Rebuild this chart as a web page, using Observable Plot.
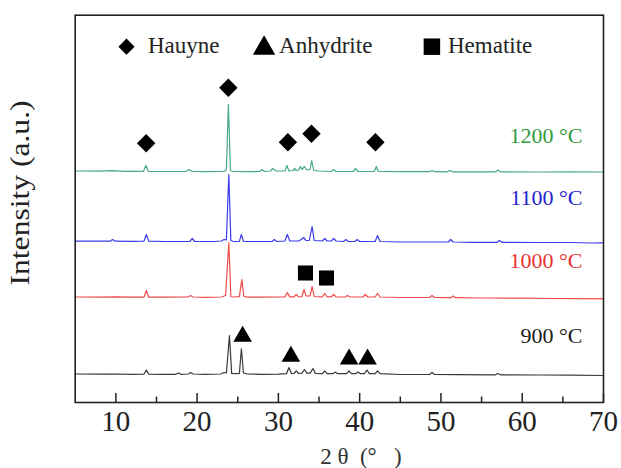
<!DOCTYPE html>
<html>
<head>
<meta charset="utf-8">
<script src="https://cdn.jsdelivr.net/npm/d3@7"></script>
<script src="https://cdn.jsdelivr.net/npm/@observablehq/plot@0.6"></script>
<style>
  html, body { margin: 0; padding: 0; background: #fff; }
</style>
</head>
<body>
<script>
// ---- Data (2θ in degrees, intensity in stacked arbitrary units) ----
const seriesNames = ["1200 \u00B0C", "1100 \u00B0C", "1000 \u00B0C", "900 \u00B0C"];
const lineColors  = ["#45a88f", "#3b3bef", "#ef4b4b", "#3a3a3a"];
const labelColors = ["#2f9a3e", "#2323cf", "#e63232", "#1a1a1a"];
const labelLevels = [266.5, 205, 141.2, 66.2];

const trace1200 = [[5,231.5],[8,231.3],[9.5,231.8],[11,231.2],[13.4,231.2],[13.7,237],[14.0,231.2],[16,231],[18.6,231],[19.0,233],[19.4,231],[21,230.8],[23.3,231],[23.6,232.5],[23.85,298],[24.1,232],[24.4,231],[26,230.8],[27.7,231],[28.0,233],[28.3,231],[29.0,231.5],[29.3,234],[29.7,231.5],[30.8,231.5],[31.05,237],[31.3,231.5],[31.8,232],[32.0,234],[32.2,232],[32.5,232.5],[32.7,236],[32.9,233],[33.2,236],[33.5,232.5],[33.9,233],[34.1,242],[34.35,232],[35,231.5],[36.5,231],[36.8,233],[37.1,231],[39.2,231],[39.5,234],[39.8,231],[41.8,231],[42.05,236],[42.3,231],[45,230.8],[48.6,230.8],[48.9,232],[49.2,230.8],[50.8,230.7],[51.1,232],[51.4,230.7],[54,230.6],[56.7,230.6],[57.0,232.5],[57.3,230.6],[62,230.5],[66,230.6],[70,230.5]];

const trace1100 = [[5,161.3],[7.5,161.5],[9.3,161.3],[9.6,163],[9.9,161.3],[12,161.2],[13.45,161.3],[13.75,168],[14.05,161.3],[16,161],[19.1,161],[19.4,164],[19.7,161],[22,161],[23.0,161.5],[23.3,163],[23.6,162.5],[23.9,228],[24.15,162],[24.5,161],[25.2,161.2],[25.45,168],[25.7,161.2],[27,161],[29.2,161],[29.5,163],[29.8,161],[30.8,161.5],[31.1,168],[31.4,161.5],[32.5,161.5],[32.8,163],[33.1,165],[33.4,162],[33.8,162],[34.15,176],[34.4,162],[35.4,161.5],[35.7,164],[36.0,161.5],[36.5,161.5],[36.8,164],[37.1,161.5],[38.0,161],[38.3,163],[38.6,161],[39.4,161],[39.7,163],[40,161],[41.9,161],[42.2,167],[42.5,161],[45,160.5],[48,160.5],[50.9,160.5],[51.2,163],[51.5,160.5],[54,160.2],[56.9,160.2],[57.2,162],[57.5,160.2],[62,160],[66,160],[68.5,159.5],[70,159.7]];

const trace1000 = [[5,105.5],[8,105.3],[10,105.6],[12,105.3],[13.45,105.3],[13.75,112],[14.05,105.3],[16.5,105.3],[18.9,105.5],[19.2,107],[19.5,105.5],[21,105.2],[23.0,105.5],[23.5,107],[23.9,160],[24.15,106],[24.5,105.5],[25.2,105.8],[25.5,123],[25.75,106],[26.2,105.3],[28,105.3],[30.8,105.6],[31.1,110],[31.4,105.6],[31.9,105.6],[32.2,108],[32.5,105.6],[32.9,106],[33.15,113],[33.4,106.5],[33.9,106.5],[34.15,116],[34.4,106],[35.4,105.6],[35.7,109],[36,105.6],[36.5,105.6],[36.8,108],[37.1,105.6],[38.2,105.5],[38.5,107],[38.8,105.5],[40.4,105.5],[40.7,108],[41,105.5],[41.9,105.5],[42.2,109],[42.5,105.5],[45,105],[48.6,105],[48.9,107],[49.2,105],[51.2,104.8],[51.5,106.5],[51.8,104.8],[55,104.5],[60,104.3],[64,104],[67,103.8],[70,103.7]];

const trace900 = [[5,28.5],[8,28.3],[10,28.5],[12,28.2],[13.45,28.3],[13.75,32.5],[14.05,28.3],[16,28.2],[17.4,28.2],[17.7,29.5],[18,28.2],[18.9,28.5],[19.2,30],[19.5,28.5],[21,28.2],[22.9,28.5],[23.3,30],[23.6,29.5],[23.98,67],[24.25,29],[24.7,28.8],[25.2,29],[25.45,53.7],[25.7,29.5],[26.2,28.5],[28,28.2],[30,28.3],[31.0,28.8],[31.3,35],[31.6,29],[31.9,29],[32.2,31.5],[32.5,29],[32.9,29.3],[33.2,33],[33.5,29.3],[33.9,29.3],[34.25,34],[34.55,29],[35.4,28.8],[35.7,31.5],[36,28.8],[36.7,28.8],[37.0,30.5],[37.3,28.8],[38.4,28.8],[38.7,31.5],[39.0,28.8],[39.5,28.8],[39.8,30.5],[40.1,28.8],[40.6,28.8],[40.9,32.5],[41.2,28.8],[41.9,28.8],[42.2,31.5],[42.5,28.8],[45,28],[48.6,28],[48.9,30],[49.2,28],[52,27.8],[56.7,27.7],[57,29],[57.3,27.7],[62,27.5],[66,27.3],[70,27]];

const traces = [trace1200, trace1100, trace1000, trace900];

// Phase markers: peak position (2θ) and marker height (a.u.)
const hauyneX = [13.73, 23.84, 31.17, 34.07, 41.94];
const hauyneY = [259.3, 314.7, 260.3, 268.7, 260.3];
const anhydriteX = [25.6, 31.54, 38.7, 40.97];
const anhydriteY = [66, 46, 43.3, 43.3];
const hematiteX = [33.33, 35.92];
const hematiteY = [129.5, 124.5];

const phaseNames = ["Hauyne", "Anhydrite", "Hematite"];
const majorTicks = [10, 20, 30, 40, 50, 60, 70];
const minorTicks = [15, 25, 35, 45, 55, 65];

// ---- Build tables ----
const lineRows = traces.flatMap((t, i) => t.map(([x, y]) => ({x, y, s: seriesNames[i]})));
const hauyne = hauyneX.map((x, i) => ({x, y: hauyneY[i]}));
const anhydrite = anhydriteX.map((x, i) => ({x, y: anhydriteY[i]}));
const hematite = hematiteX.map((x, i) => ({x, y: hematiteY[i]}));
const labels = seriesNames.map((s, i) => ({s, y: labelLevels[i], c: labelColors[i]}));

const W = 621, H = 468;
const mL = 74.7, mR = 18, mT = 14.7, mB = 66;
const frameH = H - mT - mB;
const serif = "'Liberation Serif', 'Times New Roman', serif";

const chart = Plot.plot({
  width: W, height: H,
  marginLeft: mL, marginRight: mR, marginTop: mT, marginBottom: mB,
  style: {fontFamily: serif, background: "#fff", color: "#111"},
  x: {domain: [5, 70]},
  y: {domain: [0, frameH], axis: null},
  color: {domain: seriesNames, range: lineColors},
  marks: [
    Plot.line(lineRows, {x: "x", y: "y", z: "s", stroke: "s", strokeWidth: 1.2}),
    // inward ticks
    Plot.ruleX(majorTicks, {x: d => d, insetTop: frameH - 9, stroke: "#222", strokeWidth: 1.5}),
    Plot.ruleX(minorTicks, {x: d => d, insetTop: frameH - 5.5, stroke: "#222", strokeWidth: 1.5}),
    Plot.axisX(majorTicks, {tickSize: 0, tickPadding: 7.7, fontSize: 29, fill: "#222", label: null}),
    Plot.frame({stroke: "#222", strokeWidth: 1.6}),
    // phase markers
    Plot.dot(hauyne, {x: "x", y: "y", symbol: "diamond2", r: 8.3, fill: "#000", stroke: "none"}),
    Plot.dot(anhydrite, {x: "x", y: "y", symbol: "triangle", r: 6.9, fill: "#000", stroke: "none"}),
    Plot.dot(hematite, {x: "x", y: "y", symbol: "square", r: 8.5, fill: "#000", stroke: "none"}),
    // legend
    Plot.dot([0], {frameAnchor: "top-left", dx: 51.3, dy: 31.5, symbol: "diamond2", r: 7.3, fill: "#000", stroke: "none"}),
    Plot.dot([0], {frameAnchor: "top-left", dx: 188.9, dy: 33, symbol: "triangle", r: 8.3, fill: "#000", stroke: "none"}),
    Plot.dot([0], {frameAnchor: "top-left", dx: 356.7, dy: 31.5, symbol: "square", r: 9.3, fill: "#000", stroke: "none"}),
    Plot.text([phaseNames[0]], {frameAnchor: "top-left", dx: 72.8, dy: 30.5, text: d => d, textAnchor: "start", lineAnchor: "middle", fontSize: 23, fill: "#222"}),
    Plot.text([phaseNames[1]], {frameAnchor: "top-left", dx: 203.9, dy: 30.5, text: d => d, textAnchor: "start", lineAnchor: "middle", fontSize: 23, fill: "#222"}),
    Plot.text([phaseNames[2]], {frameAnchor: "top-left", dx: 372.8, dy: 30.5, text: d => d, textAnchor: "start", lineAnchor: "middle", fontSize: 23, fill: "#222"}),
    // series labels
    Plot.text(labels, {frameAnchor: "right", y: "y", dx: -21, text: "s", textAnchor: "end", lineAnchor: "middle", fontSize: 22, fill: "c"}),
    // axis titles
    Plot.text(["2\u00A0\u03B8\u00A0\u00A0(\u00B0\u00A0\u00A0\u00A0)"], {frameAnchor: "bottom", dx: 21.6, dy: 61, text: d => d, lineAnchor: "bottom", fontSize: 23, fill: "#333"}),
    Plot.text(["Intensity (a.u.)"], {frameAnchor: "left", dx: -45.7, dy: 76.6, rotate: -90, text: d => d, textAnchor: "start", lineAnchor: "bottom", fontSize: 28, fill: "#222", className: "ylab"})
  ]
});

d3.select(chart).selectAll(".ylab text").attr("textLength", 185).attr("lengthAdjust", "spacingAndGlyphs");
document.body.appendChild(chart);
</script>
</body>
</html>
